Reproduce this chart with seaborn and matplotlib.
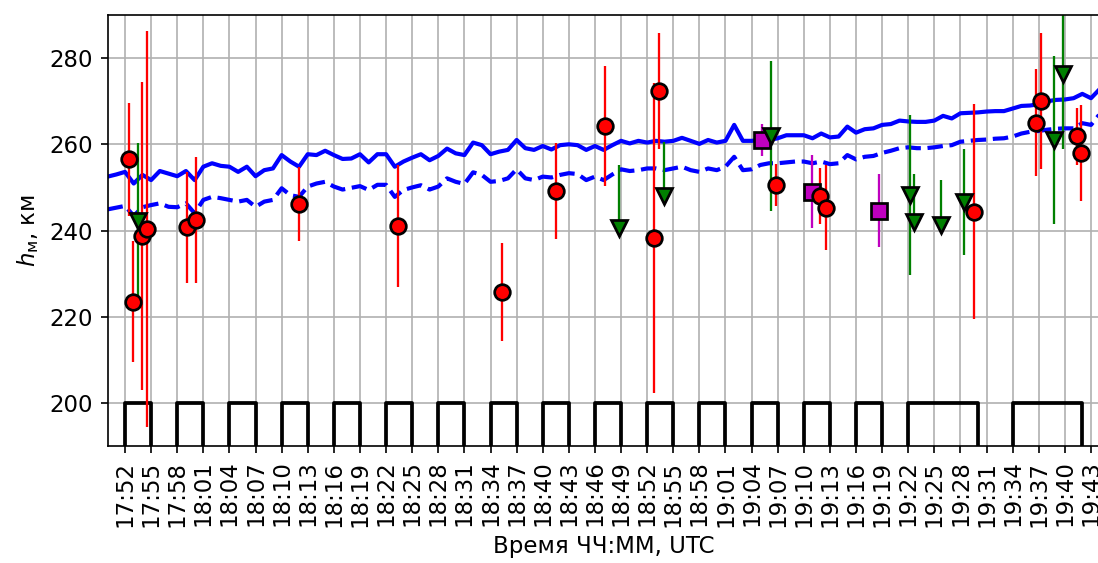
import matplotlib
matplotlib.use("Agg")
import matplotlib.pyplot as plt
import numpy as np
import pandas as pd
import seaborn as sns

# ---------------- data ----------------
line_start = "17:50"          # first sample of model curves, 1-min step
solid_h = [
    252.5, 253.0, 253.6, 250.9, 252.9, 251.7, 253.8, 253.2, 252.6, 253.8,
    251.7, 254.8, 255.6, 255.0, 254.8, 253.6, 254.8, 252.6, 254.0, 254.4,
    257.5, 256.0, 254.8, 257.7, 257.5, 258.5, 257.5, 256.6, 256.7, 257.7,
    255.8, 257.7, 257.7, 254.8, 256.0, 256.9, 257.7, 256.3, 257.3, 259.0,
    257.9, 257.5, 260.4, 259.8, 257.7, 258.3, 258.7, 261.0, 259.1, 258.7,
    259.6, 258.8, 259.8, 260.0, 259.8, 258.7, 259.6, 258.7, 259.8, 260.8,
    260.2, 260.8, 260.4, 260.8, 260.6, 260.8, 261.5, 260.8, 260.1, 261.0,
    260.4, 260.8, 264.5, 260.8, 260.8, 261.0, 261.0, 261.4, 262.1, 262.1,
    262.1, 261.4, 262.5, 261.6, 261.8, 264.1, 262.7, 263.5, 263.7, 264.5,
    264.7, 265.5, 265.3, 265.2, 265.2, 265.5, 266.6, 266.0, 267.2, 267.3,
    267.4, 267.6, 267.7, 267.7, 268.3, 268.9, 269.0, 269.3, 270.0, 270.3,
    270.4, 270.7, 271.7, 270.7, 272.8,
]
dashed_h = [
    244.9, 245.3, 245.7, 243.4, 245.4, 245.9, 246.3, 245.5, 245.4, 246.3,
    244.0, 247.1, 247.8, 247.5, 247.1, 246.7, 247.1, 245.5, 246.7, 247.1,
    249.8, 248.2, 247.8, 250.2, 250.9, 251.3, 250.2, 249.5, 249.9, 250.3,
    249.4, 250.6, 250.6, 247.8, 249.4, 250.0, 250.5, 249.5, 250.2, 252.1,
    251.3, 250.8, 253.5, 252.9, 251.3, 251.5, 252.1, 254.2, 252.1, 251.7,
    252.5, 252.3, 252.9, 253.3, 253.1, 251.7, 252.5, 251.7, 253.0, 254.2,
    253.8, 254.0, 254.4, 254.4, 254.0, 254.4, 254.8, 254.0, 253.6, 254.4,
    254.0, 254.8, 257.1, 254.0, 254.2, 255.2, 255.6, 255.6, 255.8, 256.0,
    256.0, 255.6, 256.0, 255.4, 255.6, 257.5, 256.5, 257.1, 257.3, 258.0,
    258.5, 259.1, 259.3, 259.1, 259.1, 259.3, 259.6, 259.8, 260.6, 260.8,
    261.0, 261.1, 261.3, 261.4, 261.8, 262.5, 262.9, 263.1, 263.4, 263.6,
    263.7, 263.7, 264.9, 264.5, 267.0,
]

pulse_on = [
    ("17:52", "17:55"), ("17:58", "18:01"), ("18:04", "18:07"), ("18:10", "18:13"),
    ("18:16", "18:19"), ("18:22", "18:25"), ("18:28", "18:31"), ("18:34", "18:37"),
    ("18:40", "18:43"), ("18:46", "18:49"), ("18:52", "18:55"), ("18:58", "19:01"),
    ("19:04", "19:07"), ("19:10", "19:13"), ("19:16", "19:19"), ("19:22", "19:30"),
    ("19:34", "19:42"),
]
pulse_high = 200
pulse_low = 180

red_t = ["17:52:28", "17:52:58", "17:53:55", "17:54:29", "17:59:05", "18:00:10",
         "18:12:02", "18:23:24", "18:35:18", "18:41:30", "18:47:09", "18:52:48",
         "18:53:24", "19:06:48", "19:11:54", "19:12:30", "19:29:30", "19:36:42",
         "19:37:12", "19:41:21", "19:41:51"]
red_h = [256.5, 223.5, 238.7, 240.3, 240.7, 242.4, 246.1, 241.1, 225.8, 249.2,
         264.2, 238.2, 272.4, 250.6, 248.0, 245.3, 244.4, 265.0, 270.1, 261.9, 258.0]
red_err = [13.1, 14.0, 35.8, 45.9, 12.9, 14.6, 8.6, 14.1, 11.4, 11.2,
           13.9, 36.0, 13.4, 4.8, 6.4, 9.8, 25.0, 12.4, 15.8, 6.6, 11.2]

green_t = ["17:53:28", "18:48:48", "18:53:54", "19:06:12", "19:22:12", "19:22:42",
           "19:25:48", "19:28:24", "19:38:42", "19:39:48"]
green_h = [242.3, 240.5, 248.0, 261.9, 248.2, 242.0, 241.3, 246.7, 261.1, 276.3]
green_lo = [18.8, 0.0, 0.0, 17.4, 18.5, 0.0, 0.0, 12.3, 19.5, 17.5]
green_hi = [18.1, 14.8, 12.6, 17.4, 18.5, 11.2, 10.4, 12.3, 19.5, 17.5]

mag_t = ["19:05:12", "19:10:54", "19:18:36"]
mag_h = [261.0, 249.0, 244.6]
mag_err = [3.8, 8.5, 8.5]

tick_labels = ["17:52", "17:55", "17:58", "18:01", "18:04", "18:07", "18:10", "18:13",
               "18:16", "18:19", "18:22", "18:25", "18:28", "18:31", "18:34", "18:37",
               "18:40", "18:43", "18:46", "18:49", "18:52", "18:55", "18:58", "19:01",
               "19:04", "19:07", "19:10", "19:13", "19:16", "19:19", "19:22", "19:25",
               "19:28", "19:31", "19:34", "19:37", "19:40", "19:43"]
y_ticks = [200, 220, 240, 260, 280]
y_range = (190, 290)
x_label = "Время ЧЧ:ММ, UTC"
y_label = r"$h_{\mathrm{м}}$, км"


def tmin(s):
    p = [int(v) for v in s.split(":")]
    return p[0] * 60 + p[1] + (p[2] / 60.0 if len(p) > 2 else 0.0)


# ---------------- figure ----------------
plt.rcParams["font.family"] = ["DejaVu Sans"]
plt.rcParams["font.size"] = 11

W, H, DPI = 1098, 563, 150
fig = plt.figure(figsize=(W / DPI, H / DPI), dpi=DPI)
ax = fig.add_axes([107.6 / W, 117 / H, 992.1 / W, 431 / H])

t0 = tmin(line_start)
line_t = t0 + np.arange(len(solid_h))
df_lines = pd.DataFrame({"t": line_t, "solid": solid_h, "dashed": dashed_h})

# pulse train
px, py = [], []
for a, b in pulse_on:
    ta, tb = tmin(a), tmin(b)
    px += [ta, ta, tb, tb]
    py += [pulse_low, pulse_high, pulse_high, pulse_low]
df_pulse = pd.DataFrame({"t": px, "h": py})

sns.lineplot(data=df_pulse, x="t", y="h", sort=False, estimator=None,
             color="k", linewidth=1.8, ax=ax)
sns.lineplot(data=df_lines, x="t", y="solid", sort=False, estimator=None,
             color="b", linewidth=2.0, ax=ax)
sns.lineplot(data=df_lines, x="t", y="dashed", sort=False, estimator=None,
             color="b", linewidth=2.0, linestyle="--", ax=ax)

mk = dict(ms=7.5, mew=1.3, mec="k", elinewidth=1.1, capsize=0, linestyle="none")
ax.errorbar([tmin(s) for s in mag_t], mag_h, yerr=mag_err, fmt="s",
            color="m", mfc="m", ecolor="m", **mk)
ax.errorbar([tmin(s) for s in green_t], green_h, yerr=[green_lo, green_hi], fmt="v",
            color="g", mfc="g", ecolor="g", **mk)
ax.errorbar([tmin(s) for s in red_t], red_h, yerr=red_err, fmt="o",
            color="r", mfc="r", ecolor="r", **mk)

ax.set_xlim(t0, line_t[-1])
ax.set_ylim(*y_range)
ax.set_xticks([tmin(s) for s in tick_labels])
ax.set_xticklabels(tick_labels, rotation=90)
ax.set_yticks(y_ticks)
ax.grid(True, color="#b0b0b0", lw=0.8)
ax.set_xlabel(x_label)
ax.set_ylabel(y_label)

fig.savefig("out.png", dpi=DPI)
